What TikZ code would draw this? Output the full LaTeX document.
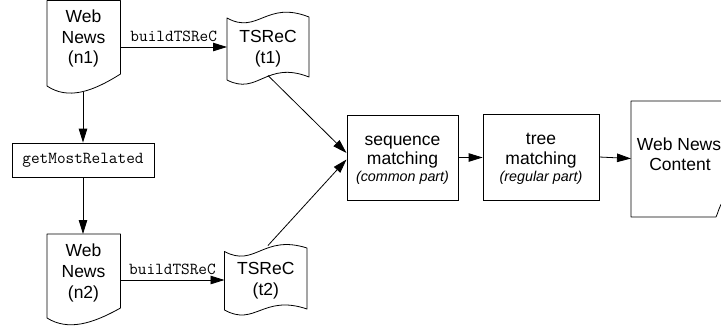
\documentclass[tikz,border=0pt]{standalone}
\usepackage{fontspec}
\setmainfont{Liberation Sans}
\usetikzlibrary{arrows.meta}
\begin{document}
\begin{tikzpicture}[x=1pt,y=-1pt,line width=0.8pt,
  lbl/.style={font=\fontsize{17.5}{20.6}\selectfont,align=center,inner sep=0pt},
  big/.style={font=\fontsize{17.5}{20.6}\selectfont,inner sep=0pt,anchor=base},
  sm/.style={font=\fontsize{14.3}{17}\selectfont\itshape,inner sep=0pt,anchor=base},
  code/.style={font=\fontsize{16.8}{19}\selectfont\ttfamily,inner sep=0pt},
  procbox/.style={draw,inner sep=0pt},
  arr/.style={-{Triangle[length=14pt,width=8.5pt]}},
  shp/.style={draw,fill=white,line join=round}]
\useasboundingbox (0,0) rectangle (721,325);
\clip (0,0) rectangle (721,325);
% document n1
\draw[shp] (47,0.5) -- (120.5,0.5) -- (120.5,74) .. controls (92,92) and (68,100) .. (47,86) -- cycle;
\node[lbl] (n1) at (83.5,38.8) {Web\\News\\(n1)};
\coordinate (n1r) at (120.5,47);
\coordinate (n1b) at (83,91.5);
% document n2
\draw[shp] (47,234) -- (120.5,234) -- (120.5,308) .. controls (92,324) and (68,331) .. (47,318) -- cycle;
\node[lbl] (n2) at (83.5,273) {Web\\News\\(n2)};
\coordinate (n2r) at (120.5,280);
\coordinate (n2t) at (83,234);
% tape t1
\draw[shp] (227,18) .. controls (258,35) and (266,0) .. (309,17) -- (309,77)
  .. controls (266,60) and (258,96) .. (227,80) -- cycle;
\node[lbl] (t1) at (268,48.8) {TSReC\\(t1)};
\coordinate (t1l) at (227,47);
\coordinate (t1b) at (268,75.5);
% tape t2
\draw[shp] (224.5,251.5) .. controls (255,268) and (263,234) .. (307,248) -- (307,309)
  .. controls (263,294) and (255,327) .. (224.5,310) -- cycle;
\node[lbl] (t2) at (265.8,280.5) {TSReC\\(t2)};
\coordinate (t2l) at (224.5,280);
\coordinate (t2t) at (268,245.5);
% getMostRelated
\node[procbox,minimum width=142,minimum height=34,code] (gmr) at (83,160) {getMostRelated};
% sequence matching
\node[procbox,minimum width=111,minimum height=85] (seq) at (402.5,157.5) {};
\node[big] (seqa) at (402.5,145) {sequence};
\node[big] (seqb) at (402.5,164) {matching};
\node[sm] (seqc) at (402.5,181.5) {(common part)};
\coordinate (sin1) at (346.5,153);
\coordinate (sin2) at (346.5,159.5);
% tree matching
\node[procbox,minimum width=116,minimum height=86] (tree) at (541,157) {};
\node[big] (treea) at (541,144.3) {tree};
\node[big] (treeb) at (541,164) {matching};
\node[sm] (treec) at (541,181.5) {(regular part)};
% Web News Content (document, cut at right edge)
\draw[line join=round] (740,101) -- (631,101) -- (631,217) -- (716,217)
  .. controls (718,213) and (719,207) .. (723,201);
\node[big] (wnca) at (679,150) {Web News};
\node[big] (wncb) at (680,170) {Content};
\coordinate (wncin) at (631,158.5);
% connectors
\draw[arr] (n1r) -- node[code,above=5pt] (lb1) {buildTSReC} (t1l);
\draw[arr] (n2r) -- node[code,above=5pt] (lb2) {buildTSReC} (t2l);
\draw[arr] (n1b) -- (gmr.north);
\draw[arr] (gmr.south) -- (n2t);
\draw[arr] (t1b) -- (sin1);
\draw[arr] (t2t) -- (sin2);
\draw[arr] (seq.east) -- (seq.east -| tree.west);
\draw[arr] (tree.east) -- (wncin);
\end{tikzpicture}
\end{document}
